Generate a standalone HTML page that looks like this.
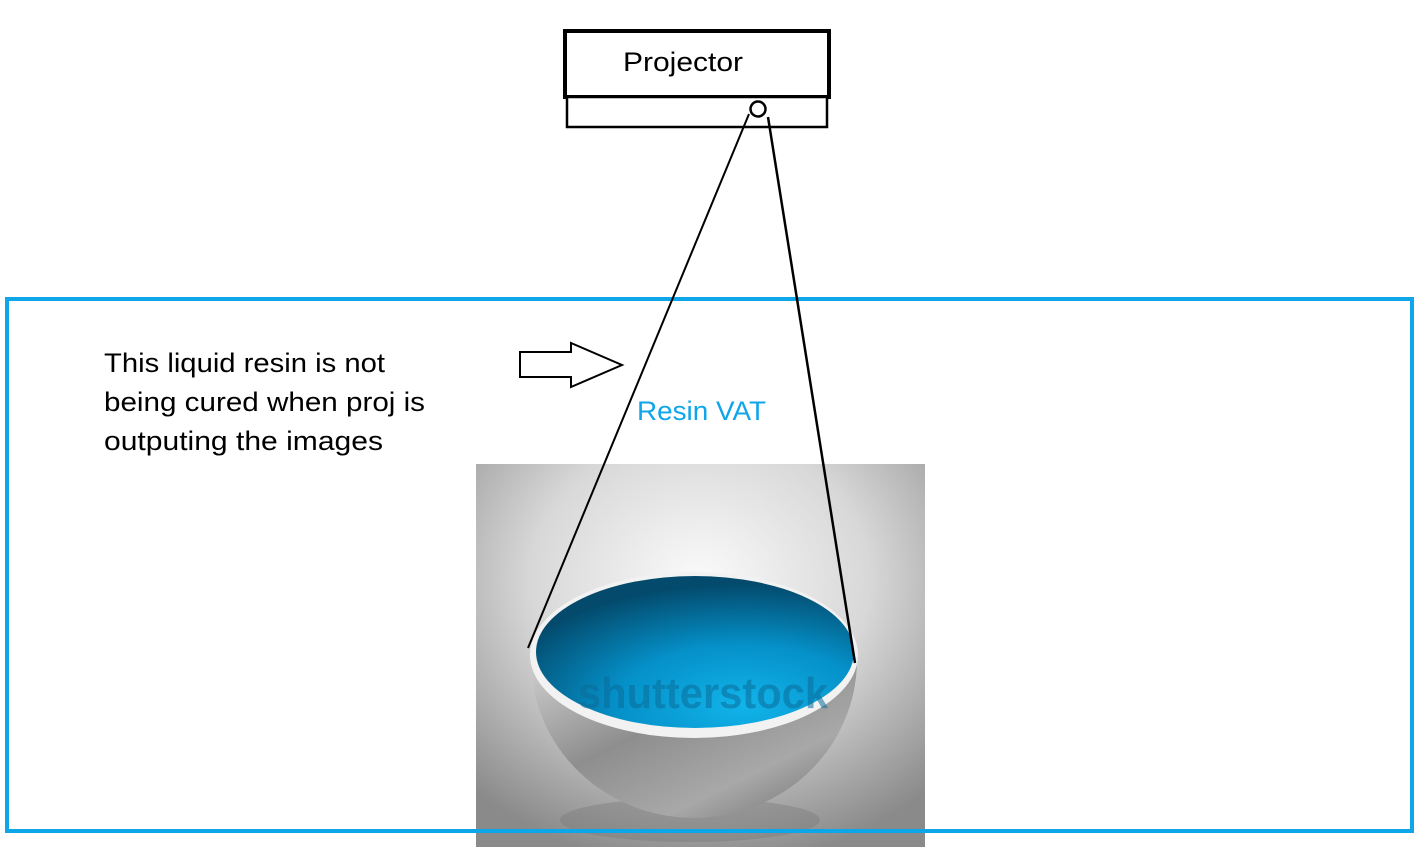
<!DOCTYPE html>
<html><head><style>html,body{margin:0;padding:0;background:#fff;width:1417px;height:847px;overflow:hidden}</style></head>
<body>
<svg width="1417" height="847" viewBox="0 0 1417 847" xmlns="http://www.w3.org/2000/svg">
<defs>
<radialGradient id="bg" cx="0.5" cy="0.3" r="0.75">
<stop offset="0" stop-color="#fafafa"/><stop offset="0.5" stop-color="#d8d8d8"/><stop offset="1" stop-color="#8a8a8a"/>
</radialGradient>
<linearGradient id="bowl" x1="0" y1="0" x2="1" y2="1">
<stop offset="0" stop-color="#d0d0d0"/><stop offset="0.4" stop-color="#8e8e8e"/><stop offset="0.7" stop-color="#a8a8a8"/><stop offset="1" stop-color="#6a6a6a"/>
</linearGradient>
<radialGradient id="blue" cx="0.65" cy="0.85" r="0.8">
<stop offset="0" stop-color="#11b4ea"/><stop offset="0.5" stop-color="#0590c8"/><stop offset="1" stop-color="#034a6c"/>
</radialGradient>
</defs>
<rect x="476" y="464" width="449" height="383" fill="url(#bg)"/>
<ellipse cx="690" cy="820" rx="130" ry="22" fill="#777" opacity="0.4"/>
<path d="M531 660 A163 158 0 0 0 857 660 Z" fill="url(#bowl)"/>
<ellipse cx="694" cy="655" rx="164" ry="83" fill="#f2f2f2"/>
<ellipse cx="695" cy="652" rx="159" ry="76" fill="url(#blue)"/>
<text x="578" y="708" font-family="Liberation Sans, sans-serif" font-size="44" font-weight="bold" fill="#0a6d9a" opacity="0.55" textLength="250" lengthAdjust="spacingAndGlyphs">shutterstock</text>
<rect x="7" y="299" width="1405" height="532" fill="none" stroke="#0ea5e9" stroke-width="4"/>
<rect x="565" y="31" width="264" height="66" fill="#fff" stroke="#000" stroke-width="4"/>
<rect x="567" y="97" width="260" height="30" fill="#fff" stroke="#000" stroke-width="2.5"/>
<text x="623" y="71" font-family="Liberation Sans, sans-serif" font-size="27" fill="#000" textLength="120" lengthAdjust="spacingAndGlyphs">Projector</text>
<circle cx="758" cy="109" r="7.5" fill="#fff" stroke="#000" stroke-width="2.5"/>
<line x1="749" y1="114" x2="528" y2="648" stroke="#000" stroke-width="2"/>
<line x1="768" y1="117" x2="855" y2="663" stroke="#000" stroke-width="2.5"/>
<polygon points="520,352 571,352 571,343 622,365 571,387 571,377 520,377" fill="#fff" stroke="#000" stroke-width="2"/>
<g font-family="Liberation Sans, sans-serif" font-size="27" fill="#000">
<text x="104" y="372" textLength="281" lengthAdjust="spacingAndGlyphs">This liquid resin is not</text>
<text x="104" y="411" textLength="321" lengthAdjust="spacingAndGlyphs">being cured when proj is</text>
<text x="104" y="450" textLength="279" lengthAdjust="spacingAndGlyphs">outputing the images</text>
</g>
<text x="637" y="420" font-family="Liberation Sans, sans-serif" font-size="27" fill="#0ea5e9" textLength="129" lengthAdjust="spacingAndGlyphs">Resin VAT</text>
</svg>
</body></html>
